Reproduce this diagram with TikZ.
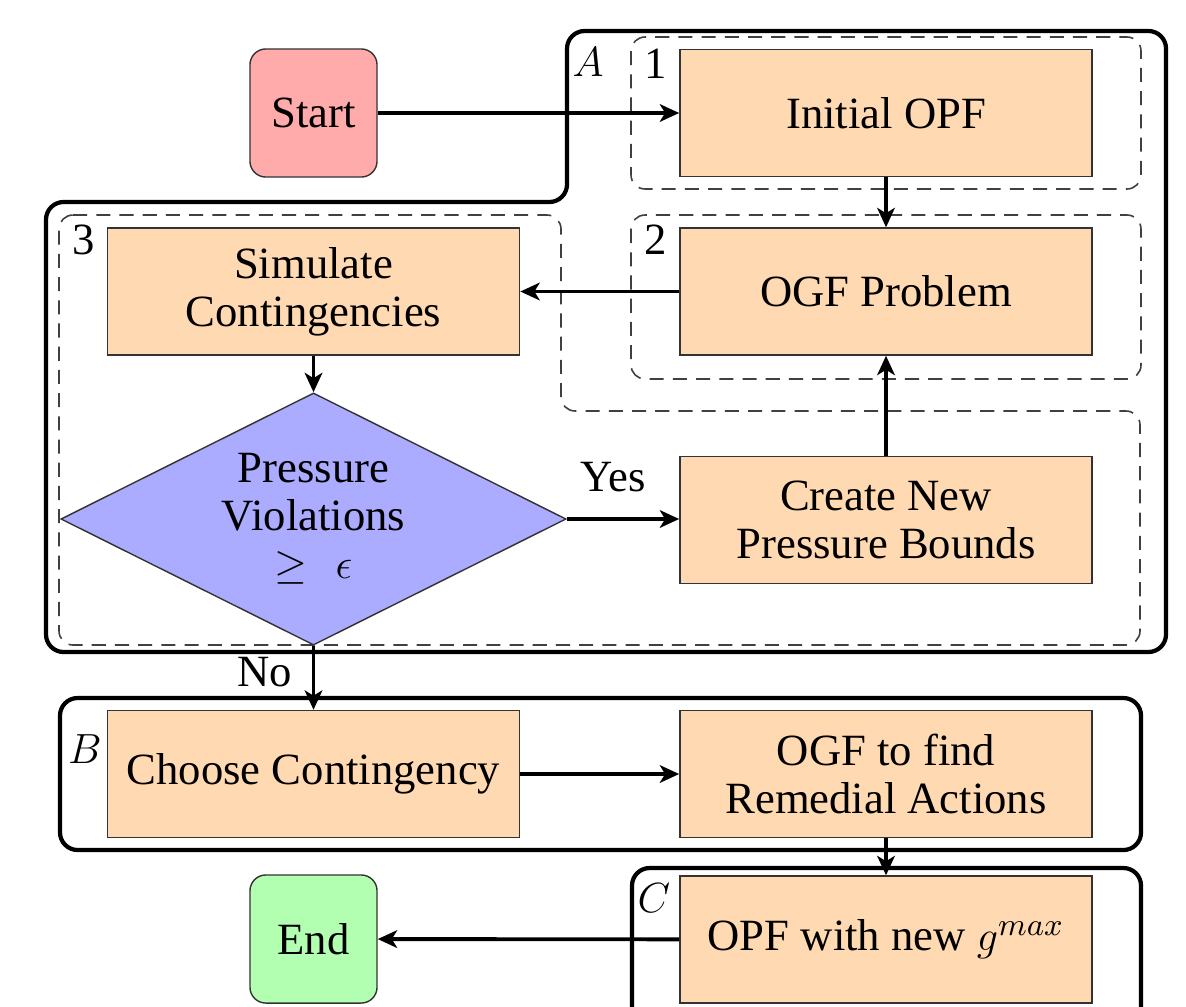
\documentclass[tikz,border=0pt]{standalone}
\usepackage{fontspec}
\setmainfont{Liberation Serif}
\usetikzlibrary{shapes.geometric,arrows.meta}
\begin{document}
\begin{tikzpicture}[x=0.01cm,y=-0.01cm,
  txt/.style={font=\fontsize{12.7}{13.7}\selectfont},
  proc/.style={draw=black!80, line width=0.4pt, fill=orange!30,
    minimum width=4.12cm, minimum height=1.27cm, align=center, inner sep=0pt, txt},
  term/.style={draw=black!80, line width=0.4pt, rounded corners=4.5pt,
    minimum width=1.27cm, minimum height=1.28cm, align=center, inner sep=0pt, txt},
  decision/.style={diamond, draw=black!80, line width=0.4pt, fill=blue!33,
    minimum width=5.05cm, minimum height=2.52cm, inner sep=0pt},
  flow/.style={line width=1.1pt, -{Stealth[length=5.5pt,width=5pt,inset=1.5pt]}},
  grp/.style={draw, line width=1.2pt, rounded corners=5pt},
  sub/.style={draw=black!75, line width=0.45pt, dash pattern=on 4pt off 2.6pt, rounded corners=4pt}]

\clip (0,0) rectangle (1186,1006);
\useasboundingbox (0,0) rectangle (1186,1006);

% stage outlines
\draw[grp] (46,202) -- (567,202) -- (567,31) -- (1166,31) -- (1166,652) -- (46,652) -- cycle;
\draw[grp] (60,698) rectangle (1141,850);
\draw[grp] (632,868) rectangle (1141,1040);

% sub-steps of stage A
\draw[sub] (631,37) rectangle (1141,189);
\draw[sub] (631,215) rectangle (1141,379);
\draw[sub] (59,215) -- (561,215) -- (561,411) -- (1140,411) -- (1140,645) -- (59,645) -- cycle;

% stage and step labels
\node[txt] (lblA) at (588,62) {$A$};
\node[txt] (lblB) at (85,749) {$B$};
\node[txt] (lblC) at (654,898) {$C$};
\node[txt] (lbl1) at (656,64) {1};
\node[txt] (lbl2) at (656,240) {2};
\node[txt] (lbl3) at (84,240) {3};

% blocks
\node[term, fill=red!33] (start) at (313.5,113) {Start};
\node[proc] (init) at (886,113) {Initial OPF};
\node[proc] (ogf) at (886,291.5) {OGF Problem};
\node[proc] (sim) at (313.5,291.5) {Simulate\\Contingencies};
\node[decision] (dec) at (313.5,519) {};
\node[txt, align=center, inner sep=0pt] (dectext) at (313.5,519) {Pressure\\Violations\\$\geq$\hspace{8pt}$\epsilon$};
\node[proc] (bounds) at (886,520) {Create New\\Pressure Bounds};
\node[proc] (choose) at (313.5,774) {Choose Contingency};
\node[proc] (remed) at (886,774) {OGF to find\\Remedial Actions};
\node[proc] (opf) at (886,939.5) {OPF with new $g^{max}$};
\node[term, fill=green!30] (end) at (313.5,939) {End};

% branch labels
\node[txt] (yes) at (613,477) {Yes};
\node[txt] (no) at (265,672) {No};

% connectors
\draw[flow] (start) -- (init);
\draw[flow] (init) -- (ogf);
\draw[flow] (ogf) -- (sim);
\draw[flow] (sim) -- (dec);
\draw[flow] (dec.east) -- (bounds.west |- dec.east);
\draw[flow] (bounds) -- (ogf);
\draw[flow] (dec.south) -- (choose.north);
\draw[flow] (choose) -- (remed);
\draw[flow] (remed) -- (opf);
\draw[flow] (opf) -- (end);
\end{tikzpicture}
\end{document}
